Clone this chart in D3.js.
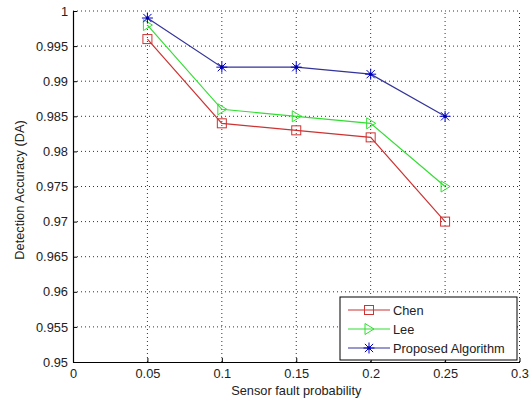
<!DOCTYPE html>
<html><head><meta charset="utf-8">
<script src="https://cdn.jsdelivr.net/npm/d3@7/dist/d3.min.js"></script>
<style>body{margin:0;background:#fff}svg{display:block}text{font-family:"Liberation Sans",Arial,sans-serif}</style>
</head><body><svg id="c" width="531" height="402"></svg>
<script>
const xValues = [0.05, 0.1, 0.15, 0.2, 0.25];
const chen = [0.996, 0.984, 0.983, 0.982, 0.970];
const lee = [0.998, 0.986, 0.985, 0.984, 0.975];
const proposed = [0.999, 0.992, 0.992, 0.991, 0.985];
const seriesNames = ["Chen", "Lee", "Proposed Algorithm"];
const xTicks = [0, 0.05, 0.1, 0.15, 0.2, 0.25, 0.3];
const yTicks = [0.95, 0.955, 0.96, 0.965, 0.97, 0.975, 0.98, 0.985, 0.99, 0.995, 1];

const svg = d3.select("#c");
const x = d3.scaleLinear().domain([0, 0.3]).range([73, 519.5]);
const y = d3.scaleLinear().domain([0.95, 1]).range([362, 11]);
const fmt = d => String(+d.toFixed(3));
const FS = 12.8;

// grid
const g = svg.append("g");
g.selectAll(".vg").data(xTicks.slice(1)).join("line")
  .attr("x1", d => x(d)).attr("x2", d => x(d)).attr("y1", y(0.95)).attr("y2", y(1))
  .attr("stroke", "#333").attr("stroke-width", 1).attr("stroke-dasharray", "1,3");
g.selectAll(".hg").data(yTicks.slice(1)).join("line")
  .attr("y1", d => y(d)).attr("y2", d => y(d)).attr("x1", x(0)).attr("x2", x(0.3))
  .attr("stroke", "#333").attr("stroke-width", 1).attr("stroke-dasharray", "1,3");

// axes
const xAxis = d3.axisBottom(x).tickValues(xTicks).tickFormat(fmt).tickSizeInner(-4).tickSizeOuter(0).tickPadding(7);
const yAxis = d3.axisLeft(y).tickValues(yTicks).tickFormat(fmt).tickSizeInner(-4).tickSizeOuter(0).tickPadding(5);
const gx = svg.append("g").attr("transform", `translate(0,${y(0.95)})`).call(xAxis);
const gy = svg.append("g").attr("transform", `translate(${x(0)},0)`).call(yAxis);
[gx, gy].forEach(a => {
  a.select(".domain").attr("stroke", "#000").attr("stroke-width", 1.2);
  a.selectAll(".tick line").attr("stroke", "#000");
  a.selectAll("text").attr("font-size", FS).attr("fill", "#222");
});

svg.append("text").attr("x", x(0.15)).attr("y", 395).attr("text-anchor", "middle")
  .attr("font-size", FS).attr("fill", "#222").text("Sensor fault probability");
svg.append("text").attr("transform", `translate(24,190) rotate(-90)`).attr("text-anchor", "middle")
  .attr("font-size", FS).attr("fill", "#222").text("Detection Accuracy (DA)");

const colors = ["#cc3333", "#33dd33", "#333399"];
const markerColors = ["#cc3333", "#33dd33", "#0000cc"];
const data = [chen, lee, proposed];

function drawMarker(sel, type, cx, cy, col) {
  if (type === 0) {
    sel.append("rect").attr("x", cx - 4.5).attr("y", cy - 4.5).attr("width", 9).attr("height", 9)
      .attr("fill", "none").attr("stroke", col).attr("stroke-width", 1);
  } else if (type === 1) {
    sel.append("path").attr("d", `M${cx-4},${cy-5.5}L${cx+5},${cy}L${cx-4},${cy+5.5}Z`)
      .attr("fill", "none").attr("stroke", col).attr("stroke-width", 1);
  } else {
    const r = 5.5;
    sel.append("path").attr("d",
      `M${cx-r},${cy}L${cx+r},${cy}M${cx},${cy-r}L${cx},${cy+r}M${cx-r*0.75},${cy-r*0.75}L${cx+r*0.75},${cy+r*0.75}M${cx-r*0.75},${cy+r*0.75}L${cx+r*0.75},${cy-r*0.75}`)
      .attr("stroke", col).attr("stroke-width", 1);
    sel.append("circle").attr("cx", cx).attr("cy", cy).attr("r", 1.8).attr("fill", "#0000aa");
  }
}

const line = d3.line().x((d, i) => x(xValues[i])).y(d => y(d));
data.forEach((s, k) => {
  const gs = svg.append("g");
  gs.append("path").datum(s).attr("d", line).attr("fill", "none").attr("stroke", colors[k]).attr("stroke-width", 1.2);
  s.forEach((v, i) => drawMarker(gs, k, x(xValues[i]), y(v), markerColors[k]));
});

// legend
const lg = svg.append("g");
lg.append("rect").attr("x", 340).attr("y", 297).attr("width", 177).attr("height", 63)
  .attr("fill", "#fff").attr("stroke", "#000").attr("stroke-width", 1);
seriesNames.forEach((n, k) => {
  const ly = 310 + k * 19;
  lg.append("line").attr("x1", 348).attr("x2", 390).attr("y1", ly).attr("y2", ly).attr("stroke", colors[k]).attr("stroke-width", 1.2);
  drawMarker(lg, k, 369, ly, markerColors[k]);
  lg.append("text").attr("x", 393).attr("y", ly + 4.5).attr("font-size", FS).attr("fill", "#222").text(n);
});
</script></body></html>
